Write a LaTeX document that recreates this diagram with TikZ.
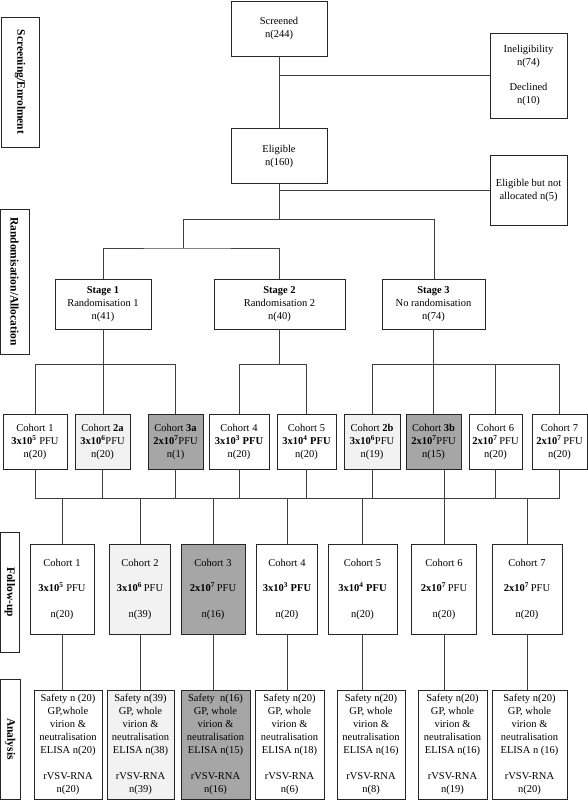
\documentclass[tikz,border=0pt]{standalone}
\usepackage{fontspec}
\setmainfont{Liberation Serif}
\usepackage{tikz}
\usetikzlibrary{positioning}
\definecolor{cohlight}{gray}{0.95}
\definecolor{cohdark}{gray}{0.65}

\begin{document}
\begin{tikzpicture}[
	x=1pt,
	y=-1pt,
	rect/.style={
		draw=black!85,
		line width=0.9pt,
		rectangle,
		align=center,
		inner sep=1pt,
		fill=white,
	},
	lightrect/.style={
		rect,
		fill=cohlight,
	},
	darkrect/.style={
		rect,
		fill=cohdark,
	},
	labelrect/.style={
		rect,
		rotate=-90,
		font=\fontsize{11.5}{14}\selectfont\bfseries,
	},
	link/.style={
		draw=black!75,
		line width=0.8pt,
	},
	font=\fontsize{10.5}{13}\selectfont,
]
\useasboundingbox (0,0) rectangle (588,800);

% phase labels
\node [labelrect, minimum width=130pt, minimum height=38pt] (lscreen) at (20,82) {Screening/Enrolment};
\node [labelrect, minimum width=145pt, minimum height=29pt] (lrandom) at (14.5,281.5) {Randomisation/Allocation};
\node [labelrect, minimum width=120pt, minimum height=19pt] (lfollow) at (10,592) {Follow-up};
\node [labelrect, minimum width=120pt, minimum height=20pt] (lanalysis) at (10,739) {Analysis};

% screening
\node [rect, minimum width=96pt, minimum height=55pt] (screened) at (279,28.5) {Screened\\n(244)};
\node [rect, minimum width=77pt, minimum height=85pt] (inelig) at (528.5,75.5) {Ineligibility\\n(74)\\[12pt]Declined\\n(10)};
\node [rect, minimum width=96pt, minimum height=55pt, below=72pt of screened] (eligible) {Eligible\\n(160)};
\node [rect, minimum width=77pt, minimum height=70pt] (notalloc) at (528.5,190) {Eligible but not\\allocated n(5)};

% stages
\node [rect, minimum width=96pt, minimum height=50pt] (stage1) at (103,304) {\textbf{Stage 1}\\Randomisation 1\\n(41)};
\node [rect, minimum width=131pt, minimum height=50pt] (stage2) at (279.5,304) {\textbf{Stage 2}\\Randomisation 2\\n(40)};
\node [rect, minimum width=103pt, minimum height=50pt] (stage3) at (433.5,304) {\textbf{Stage 3}\\No randomisation\\n(74)};

% allocated cohorts
\node [rect, minimum width=64pt, minimum height=55pt] (c1) at (35,441.5) {Cohort 1\\\textbf{3x10\textsuperscript{5}} PFU\\n(20)};
\node [lightrect, minimum width=55pt, minimum height=55pt] (c2a) at (102.5,441.5) {Cohort \textbf{2a}\\\textbf{3x10\textsuperscript{6}}PFU\\n(20)};
\node [darkrect, minimum width=55pt, minimum height=55pt] (c3a) at (175.5,441.5) {Cohort \textbf{3a}\\\textbf{2x10\textsuperscript{7}}PFU\\n(1)};
\node [rect, minimum width=60pt, minimum height=55pt] (c4) at (239,441.5) {Cohort 4\\\textbf{3x10\textsuperscript{3} PFU}\\n(20)};
\node [rect, minimum width=59pt, minimum height=55pt] (c5) at (306.5,441.5) {Cohort 5\\\textbf{3x10\textsuperscript{4} PFU}\\n(20)};
\node [lightrect, minimum width=56pt, minimum height=55pt] (c2b) at (372,441.5) {Cohort \textbf{2b}\\\textbf{3x10\textsuperscript{6}}PFU\\n(19)};
\node [darkrect, minimum width=55pt, minimum height=55pt] (c3b) at (433.5,441.5) {Cohort \textbf{3b}\\\textbf{2x10\textsuperscript{7}}PFU\\n(15)};
\node [rect, minimum width=53pt, minimum height=55pt] (c6) at (495.5,441.5) {Cohort 6\\\textbf{2x10\textsuperscript{7}}\,PFU\\n(20)};
\node [rect, minimum width=55pt, minimum height=55pt] (c7) at (559.5,441.5) {Cohort 7\\\textbf{2x10\textsuperscript{7}}\,PFU\\n(20)};

% follow-up
\node [rect, minimum width=64pt, minimum height=90pt] (fu1) at (62,589) {Cohort 1\\[12.5pt]\textbf{3x10\textsuperscript{5}} PFU\\[12.5pt]n(20)};
\node [lightrect, minimum width=61pt, minimum height=90pt] (fu2) at (140,589) {Cohort 2\\[12.5pt]\textbf{3x10\textsuperscript{6}}\,PFU\\[12.5pt]n(39)};
\node [darkrect, minimum width=64pt, minimum height=90pt] (fu3) at (213,589) {Cohort 3\\[12.5pt]\textbf{2x10\textsuperscript{7}}\,PFU\\[12.5pt]n(16)};
\node [rect, minimum width=61pt, minimum height=90pt] (fu4) at (287,589) {Cohort 4\\[12.5pt]\textbf{3x10\textsuperscript{3} PFU}\\[12.5pt]n(20)};
\node [rect, minimum width=69pt, minimum height=90pt] (fu5) at (362.5,589) {Cohort 5\\[12.5pt]\textbf{3x10\textsuperscript{4} PFU}\\[12.5pt]n(20)};
\node [rect, minimum width=65pt, minimum height=90pt] (fu6) at (444,589) {Cohort 6\\[12.5pt]\textbf{2x10\textsuperscript{7}}\,PFU\\[12.5pt]n(20)};
\node [rect, minimum width=70pt, minimum height=90pt] (fu7) at (527,589) {Cohort 7\\[12.5pt]\textbf{2x10\textsuperscript{7}}\,PFU\\[12.5pt]n(20)};

% analysis
\node [rect, minimum width=68pt, minimum height=109pt] (an1) at (68,744.5) {Safety n (20)\\GP,whole\\virion \&\\neutralisation\\ELISA n(20)\\[13pt]rVSV-RNA\\n(20)};
\node [lightrect, minimum width=67pt, minimum height=109pt] (an2) at (140.5,744.5) {Safety n(39)\\GP, whole\\virion \&\\neutralisation\\ELISA n(38)\\[13pt]rVSV-RNA\\n(39)};
\node [darkrect, minimum width=69pt, minimum height=109pt] (an3) at (215.5,744.5) {Safety\ \ n(16)\\GP, whole\\virion \&\\neutralisation\\ELISA n(15)\\[13pt]rVSV-RNA\\n(16)};
\node [rect, minimum width=69pt, minimum height=109pt] (an4) at (289.5,744.5) {Safety n(20)\\GP, whole\\virion \&\\neutralisation\\ELISA n(18)\\[13pt]rVSV-RNA\\n(6)};
\node [rect, minimum width=68pt, minimum height=109pt] (an5) at (371,744.5) {Safety n(20)\\GP, whole\\virion \&\\neutralisation\\ELISA n(16)\\[13pt]rVSV-RNA\\n(8)};
\node [rect, minimum width=69pt, minimum height=109pt] (an6) at (452.5,744.5) {Safety n(20)\\GP, whole\\virion \&\\neutralisation\\ELISA n(16)\\[13pt]rVSV-RNA\\n(19)};
\node [rect, minimum width=75pt, minimum height=109pt] (an7) at (529.5,744.5) {Safety n(20)\\GP, whole\\virion \&\\neutralisation\\ELISA n (16)\\[13pt]rVSV-RNA\\n(20)};

\coordinate (split) at (279,219);
\coordinate (splitl) at (183,219);
\coordinate (splitr) at (434,219);
\coordinate (split2) at (183,248);
\coordinate (bus1) at (0,364);
\coordinate (bus2) at (0,498);

\draw [link] (screened) -- (eligible);
\draw [link] (screened |- inelig) -- (inelig);
\draw [link] (eligible |- notalloc) -- (notalloc);
\draw [link] (eligible) -- (split);
\draw [link] (splitl) -- (splitr) -- (splitr |- stage3.north);
\draw [link] (splitl) -- (split2);
\draw [link] (stage1.north) |- (split2) -- (split2 -| stage2.north) -- (stage2.north);

\draw [link] (stage1.south) -- (stage1.south |- c2a.north);
\draw [link] (c1.north) |- (bus1 -| c3a.north) -- (c3a.north);
\draw [link] (stage2.south) -- (stage2.south |- bus1);
\draw [link] (c4.north) |- (bus1 -| c5.north) -- (c5.north);
\draw [link] (stage3.south) -- (stage3.south |- c3b.north);
\draw [link] (c2b.north) |- (bus1 -| c7.north) -- (c7.north);
\draw [link] (c6.north) -- (c6.north |- bus1);

\draw [link] (c1.south) |- (bus2 -| c7.south) -- (c7.south);
\draw [link] (c2a.south) -- (c2a.south |- bus2);
\draw [link] (c3a.south) -- (c3a.south |- bus2);
\draw [link] (c4.south) -- (c4.south |- bus2);
\draw [link] (c5.south) -- (c5.south |- bus2);
\draw [link] (c2b.south) -- (c2b.south |- bus2);
\draw [link] (c6.south) -- (c6.south |- bus2);
\draw [link] (fu1.north |- bus2) -- (fu1.north);
\draw [link] (fu2.north |- bus2) -- (fu2.north);
\draw [link] (fu3.north |- bus2) -- (fu3.north);
\draw [link] (fu4.north |- bus2) -- (fu4.north);
\draw [link] (fu5.north |- bus2) -- (fu5.north);
\draw [link] (c3b.south -| fu6.north) -- (fu6.north);
\draw [link] (fu7.north |- bus2) -- (fu7.north);

\draw [link] (fu1.south) -- (fu1.south |- an1.north);
\draw [link] (fu2.south) -- (fu2.south |- an2.north);
\draw [link] (fu3.south) -- (fu3.south |- an3.north);
\draw [link] (fu4.south) -- (fu4.south |- an4.north);
\draw [link] (fu5.south) -- (fu5.south |- an5.north);
\draw [link] (fu6.south) -- (fu6.south |- an6.north);
\draw [link] (fu7.south) -- (fu7.south |- an7.north);
\end{tikzpicture}
\end{document}
